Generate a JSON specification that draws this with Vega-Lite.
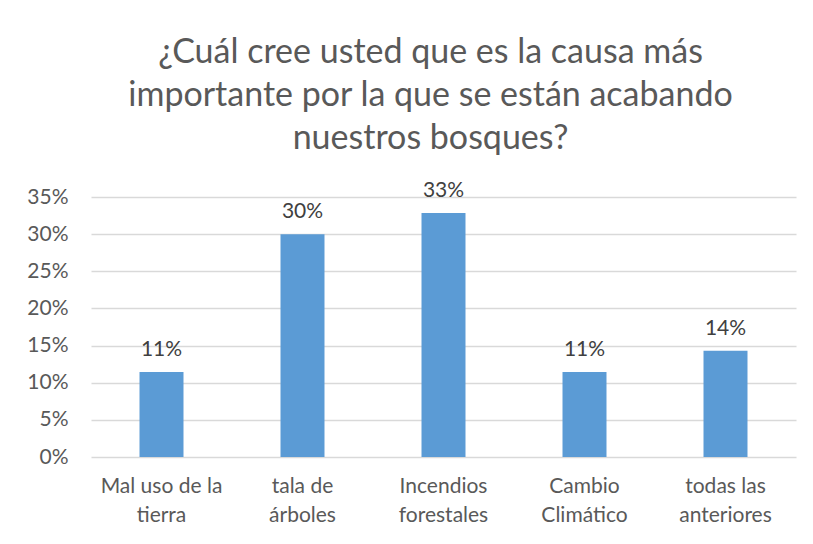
{
  "$schema": "https://vega.github.io/schema/vega-lite/v6.json",
  "width": 705,
  "height": 260,
  "autosize": "none",
  "padding": {"left": 91, "top": 197, "right": 17, "bottom": 87},
  "background": "white",
  "title": {
    "text": ["¿Cuál cree usted que es la causa más", "importante por la que se están acabando", "nuestros bosques?"],
    "font": "Lato",
    "fontSize": 34,
    "fontWeight": "normal",
    "color": "#595959",
    "lineHeight": 43,
    "anchor": "middle",
    "frame": "group",
    "dx": -13,
    "offset": 24
  },
  "data": {
    "values": [
      {"causa": "Mal uso de la tierra", "valor": 0.1143},
      {"causa": "tala de árboles", "valor": 0.30},
      {"causa": "Incendios forestales", "valor": 0.3286},
      {"causa": "Cambio Climático", "valor": 0.1143},
      {"causa": "todas las anteriores", "valor": 0.1429}
    ]
  },
  "encoding": {
    "x": {
      "field": "causa",
      "type": "nominal",
      "sort": null,
      "scale": {"paddingInner": 0.688, "paddingOuter": 0.344},
      "axis": {
        "title": null,
        "labelAngle": 0,
        "domain": false,
        "ticks": false,
        "labelFont": "Lato",
        "labelFontSize": 21,
        "labelColor": "#595959",
        "labelPadding": 18,
        "labelLineHeight": 29,
        "labelBaseline": "top",
        "labelExpr": "datum.label == 'Mal uso de la tierra' ? ['Mal uso de la', 'tierra'] : datum.label == 'tala de árboles' ? ['tala de', 'árboles'] : datum.label == 'Incendios forestales' ? ['Incendios', 'forestales'] : datum.label == 'Cambio Climático' ? ['Cambio', 'Climático'] : ['todas las', 'anteriores']"
      }
    },
    "y": {
      "field": "valor",
      "type": "quantitative",
      "scale": {"domain": [0, 0.35], "nice": false},
      "axis": {
        "title": null,
        "values": [0, 0.05, 0.1, 0.15, 0.2, 0.25, 0.3, 0.35],
        "format": ".0%",
        "domain": false,
        "ticks": false,
        "labelFont": "Lato",
        "labelFontSize": 21,
        "labelColor": "#595959",
        "labelPadding": 23,
        "gridColor": "#D9D9D9",
        "gridWidth": 1.3
      }
    }
  },
  "layer": [
    {"mark": {"type": "bar", "color": "#5B9BD5"}},
    {
      "mark": {"type": "text", "baseline": "bottom", "dy": -12, "font": "Lato", "fontSize": 21, "color": "#404040"},
      "encoding": {"text": {"field": "valor", "type": "quantitative", "format": ".0%"}}
    }
  ],
  "config": {"view": {"stroke": null}}
}
